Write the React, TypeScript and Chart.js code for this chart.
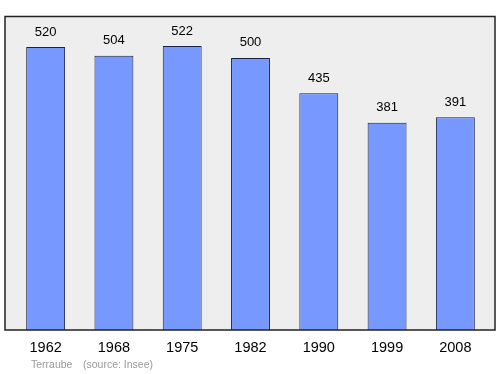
import React, { useEffect, useRef } from "react";
import { Chart, registerables } from "chart.js";

Chart.register(...registerables);

const years = ["1962", "1968", "1975", "1982", "1990", "1999", "2008"];
const population = [520, 504, 522, 500, 435, 381, 391];
const footerPlace = "Terraube";
const footerSource = "(source: Insee)";

const FONT = "'Liberation Sans', Arial, sans-serif";

const boxPlugin = {
  id: "boxPlugin",
  beforeDatasetsDraw(chart: any) {
    const { ctx, chartArea } = chart;
    const l = chartArea.left - 6.5;
    const r = chartArea.right + 5.5;
    const t = chartArea.top + 0.5;
    const b = chartArea.bottom;
    ctx.save();
    ctx.fillStyle = "#eeeeee";
    ctx.fillRect(l, t, r - l, b - t);
    ctx.restore();
  },
  afterDatasetsDraw(chart: any) {
    const { ctx, chartArea } = chart;
    const l = chartArea.left - 6.5;
    const r = chartArea.right + 5.5;
    const t = chartArea.top + 0.5;
    const b = chartArea.bottom;
    ctx.save();
    ctx.strokeStyle = "#222222";
    ctx.lineWidth = 1.5;
    ctx.strokeRect(l, t, r - l, b - t);
    // value labels
    const meta = chart.getDatasetMeta(0);
    ctx.fillStyle = "#000000";
    ctx.font = `13px ${FONT}`;
    ctx.textAlign = "center";
    ctx.textBaseline = "middle";
    meta.data.forEach((bar: any, i: number) => {
      ctx.fillText(String(population[i]), bar.x, bar.y - 15);
    });
    // footer
    ctx.fillStyle = "#999999";
    ctx.font = `10.5px ${FONT}`;
    ctx.textAlign = "left";
    ctx.fillText(footerPlace, 31, 365);
    ctx.fillText(footerSource, 83, 365);
    ctx.restore();
  },
};

export default function App() {
  const ref = useRef<HTMLCanvasElement>(null);
  useEffect(() => {
    const chart = new Chart(ref.current!, {
      type: "bar",
      data: {
        labels: years,
        datasets: [
          {
            data: population,
            backgroundColor: "#7799ff",
            borderColor: "#1a2244",
            borderWidth: 1,
            barPercentage: 0.57,
            categoryPercentage: 1,
          },
        ],
      },
      options: {
        animation: false,
        responsive: false,
        maintainAspectRatio: false,
        events: [],
        layout: { padding: { left: 11.5, right: 10.5, top: 16, bottom: 8.6 } },
        plugins: { legend: { display: false }, tooltip: { enabled: false } },
        scales: {
          x: {
            grid: { display: false, drawTicks: false },
            border: { display: false },
            ticks: { color: "#000000", font: { size: 14.5, family: FONT }, padding: 9 },
          },
          y: { display: false, min: 0, max: 577 },
        },
      },
      plugins: [boxPlugin],
    });
    return () => chart.destroy();
  }, []);
  return (
    <div style={{ position: "fixed", left: 0, top: 0, width: 500, height: 374, background: "#ffffff" }}>
      <canvas ref={ref} width={500} height={374} style={{ width: 500, height: 374 }} />
    </div>
  );
}
